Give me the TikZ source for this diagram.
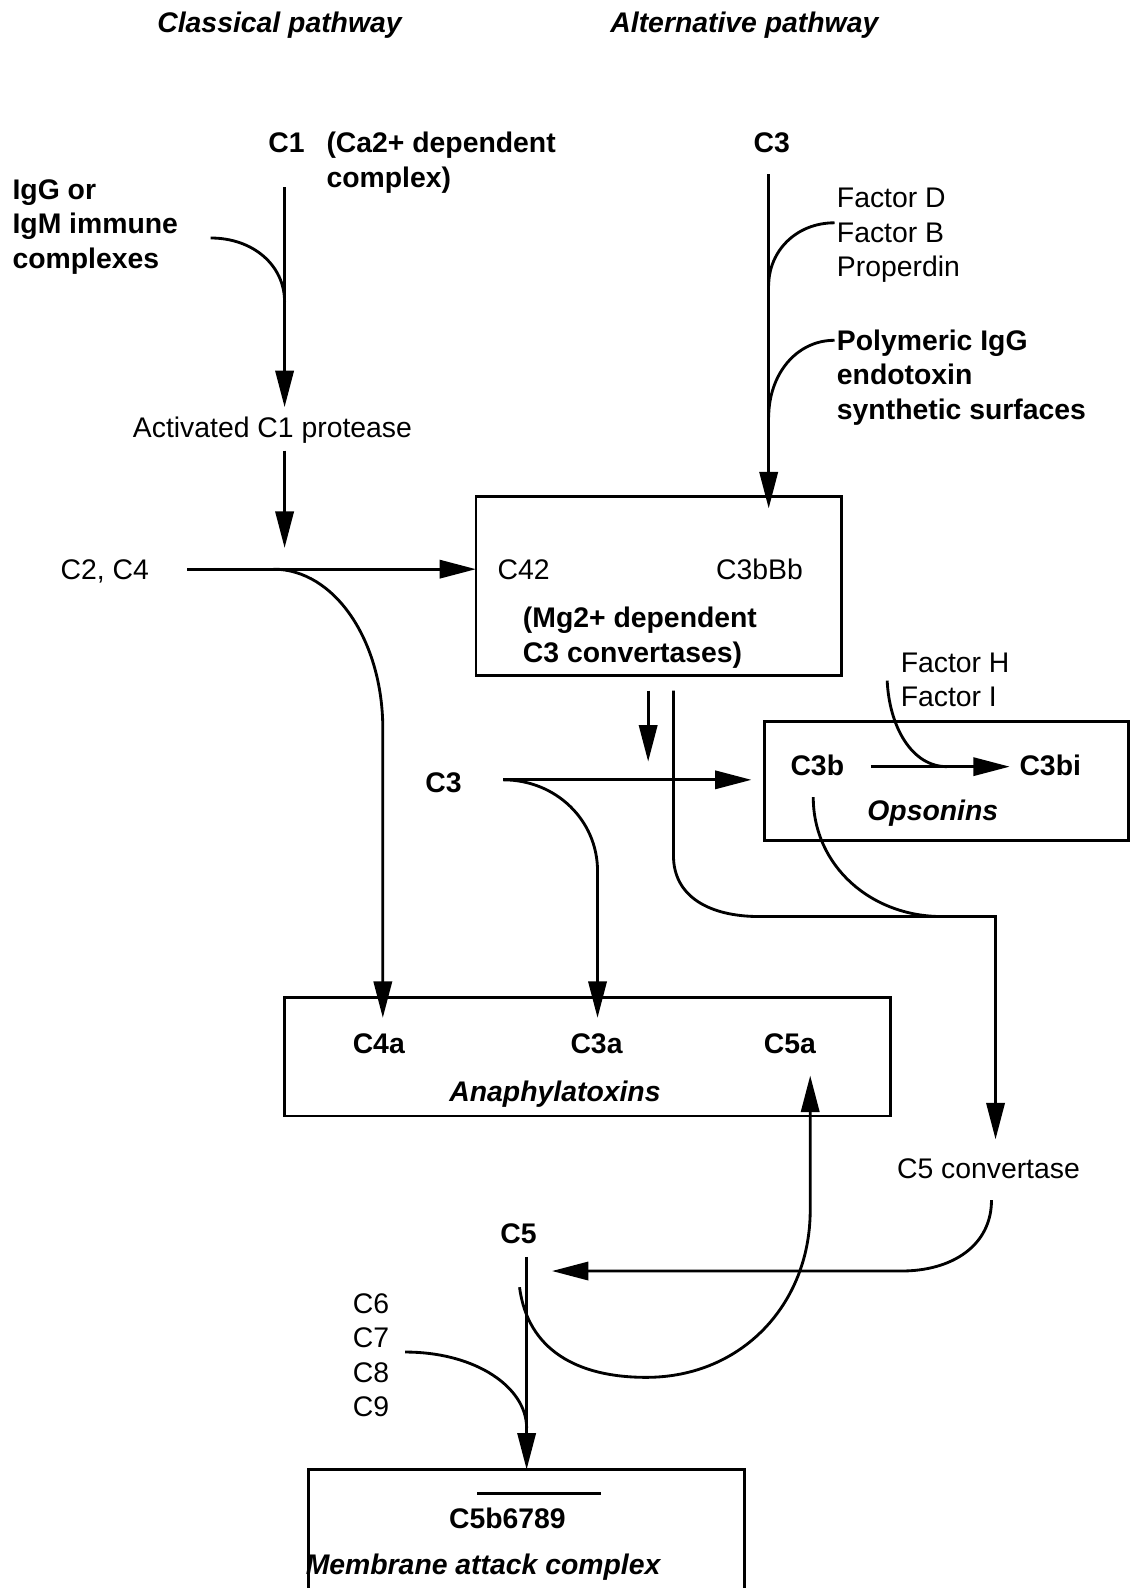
\documentclass[tikz,border=0pt]{standalone}
\usepackage{fontspec}
\setmainfont{Liberation Sans}
\usetikzlibrary{arrows.meta}
\begin{document}
\begin{tikzpicture}[x=0.5pt,y=-0.5pt,
  txt/.style={inner sep=0pt, font=\fontsize{14}{17}\selectfont},
  lbl/.style={txt, text height=10pt, text depth=0pt},
  blbl/.style={lbl, font=\fontsize{14}{17}\selectfont\bfseries},
  ilbl/.style={lbl, font=\fontsize{14}{17}\selectfont\bfseries\itshape},
  mlbl/.style={txt, align=left, anchor=base west},
  mblbl/.style={mlbl, font=\fontsize{14}{17}\selectfont\bfseries},
  ln/.style={line width=1.4pt},
  arr/.style={ln, -{Triangle[length=18pt,width=9pt]}},
  bx/.style={draw, line width=1.4pt, inner sep=0pt, outer sep=0pt}
]
\useasboundingbox (0,0) rectangle (1122,1568);

% boxes
\node[bx, minimum width=180.5pt, minimum height=88.5pt] (conv) at (650.5,578.5) {};
\node[bx, minimum width=179.5pt, minimum height=59pt] (opsbox) at (934.5,771) {};
\node[bx, minimum width=299pt, minimum height=58.5pt] (anabox) at (580,1043.5) {};
\draw[ln] (305,1580) -- (305,1451) coordinate (macnw) -- (735,1451) coordinate (macne) -- (735,1580);

% titles
\node[ilbl] (clp) at (276,22) {Classical pathway};
\node[ilbl] (alp) at (735,22) {Alternative pathway};

% classical texts (multi-line nodes: base = baseline of last line)
\node[blbl] (C1) at (283,141) {C1};
\node[mblbl] (ca) at (322,185) {(Ca2+ dependent\\complex)};
\node[mblbl] (igg) at (12,265) {IgG or\\IgM immune\\complexes};
\node[lbl] (act) at (269,422) {Activated C1 protease};
\node[lbl] (c2c4) at (103.5,562) {C2, C4};
\node[lbl] (c42) at (517,562) {C42};
\node[lbl] (c3bbb) at (750,562) {C3bBb};
\node[mblbl] (mg) at (516,654) {(Mg2+ dependent\\C3 convertases)};

% alternative texts
\node[blbl] (C3top) at (762,141) {C3};
\node[mlbl] (fd) at (826,273) {Factor D\\Factor B\\Properdin};
\node[mblbl] (poly) at (826,414) {Polymeric IgG\\endotoxin\\synthetic surfaces};

% middle
\node[blbl] (C3mid) at (438,773) {C3};
\node[blbl] (c3b) at (807,756) {C3b};
\node[blbl] (c3bi) at (1037,756) {C3bi};
\node[ilbl] (ops) at (921,800) {Opsonins};
\node[mlbl] (fh) at (889,698) {Factor H\\Factor I};

% anaphylatoxins
\node[blbl] (c4a) at (374,1030) {C4a};
\node[blbl] (c3a) at (589,1030) {C3a};
\node[blbl] (c5a) at (780,1030) {C5a};
\node[ilbl] (ana) at (548,1078) {Anaphylatoxins};

% lower
\node[lbl] (c5conv) at (976,1154) {C5 convertase};
\node[blbl] (C5) at (512,1218) {C5};
\node[mlbl] (c69) at (348,1399) {C6\\C7\\C8\\C9};
\node[blbl] (mac) at (501,1499) {C5b6789};
\node[ilbl] (macl) at (477,1545) {Membrane attack complex};
\draw[ln] (471,1475) coordinate (ovl) -- (593,1475) coordinate (ovr);

% ---- connectors ----
% C1 -> activated
\coordinate (a1) at (281,185); \coordinate (a2) at (281,402);
\draw[arr] (a1) -- (a2);
\coordinate (igs) at (208,235); \coordinate (igj) at (281,298);
\draw[ln] (igs) .. controls +(42,0) and +(0,-36) .. (igj);
% activated -> C2,C4 line
\coordinate (b1) at (281,445); \coordinate (b2) at (281,541);
\draw[arr] (b1) -- (b2);
% C2,C4 -> C42
\coordinate (h1) at (185,562);
\draw[arr] (h1) -- (conv.west |- h1);
% C2,C4 -> C4a
\coordinate (k1) at (270,562); \coordinate (k2) at (378,720); \coordinate (k3) at (378,1005);
\draw[arr] (k1) .. controls +(60,0) and +(0,-88) .. (k2) -- (k3);

% alternative C3 -> convertase
\coordinate (d1) at (759,172); \coordinate (d2) at (759,502);
\draw[arr] (d1) -- (d2);
\coordinate (fbs) at (824,220); \coordinate (fbj) at (759,282);
\draw[ln] (fbs) .. controls +(-38,0) and +(0,-34) .. (fbj);
\coordinate (pos) at (824,336); \coordinate (poj) at (759,412);
\draw[ln] (pos) .. controls +(-38,0) and +(0,-42) .. (poj);

% convertase -> down short arrow
\coordinate (e1) at (640,682); \coordinate (e2) at (640,752);
\draw[arr] (e1) -- (e2);
% convertase -> C5 convertase
\coordinate (f1) at (665,682); \coordinate (f2) at (665,845); \coordinate (f3) at (750,905);
\coordinate (f4) at (983,905); \coordinate (f5) at (983,1125);
\draw[arr] (f1) -- (f2) .. controls +(0,40) and +(-50,0) .. (f3) -- (f4) -- (f5);

% C3 middle -> C3b
\coordinate (g1) at (497,770); \coordinate (g2) at (742,770);
\draw[arr] (g1) -- (g2);
\coordinate (g3) at (590,860); \coordinate (g4) at (590,1005);
\draw[arr] (g1) .. controls +(52,0) and +(0,-50) .. (g3) -- (g4);

% C3b -> C3bi
\coordinate (m1) at (860,757); \coordinate (m2) at (997,757);
\draw[arr] (m1) -- (m2);
\coordinate (fhs) at (876,672); \coordinate (fhj) at (935,757);
\draw[ln] (fhs) .. controls +(2,45) and +(-35,0) .. (fhj);
% C3b -> horizontal line
\coordinate (ns) at (803,787); \coordinate (nj) at (930,905);
\draw[ln] (ns) .. controls +(0,68) and +(-70,0) .. (nj);

% C5 convertase -> C5
\coordinate (p1) at (979,1185); \coordinate (p2) at (890,1255); \coordinate (p3) at (545,1255);
\draw[arr] (p1) .. controls +(0,45) and +(50,0) .. (p2) -- (p3);

% C5 -> MAC
\coordinate (q1) at (520,1241);
\draw[arr] (q1) -- (q1 |- macnw);
\coordinate (c69s) at (400,1335); \coordinate (c69j) at (520,1410);
\draw[ln] (c69s) .. controls +(70,0) and +(0,-40) .. (c69j);

% C5 -> C5a
\coordinate (r1) at (513,1271); \coordinate (r2) at (638,1360);
\coordinate (r3) at (800,1195); \coordinate (r4) at (800,1062);
\draw[arr] (r1) .. controls +(8,62) and +(-68,0) .. (r2) .. controls +(95,0) and +(0,92) .. (r3) -- (r4);

\end{tikzpicture}
\end{document}
